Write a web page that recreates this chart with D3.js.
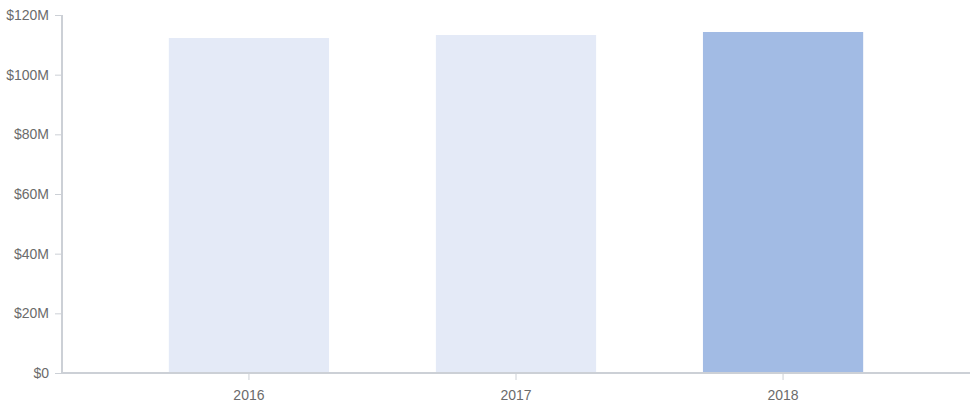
<meta charset="UTF-8">
<head>
  <script src="https://d3js.org/d3.v7.min.js"></script>
  <style>
    body { margin: 0; background: #fff; }
    text { font-family: "Liberation Sans", Arial, sans-serif; }
  </style>
</head>
<body>
  <svg id="svg" width="970" height="412"></svg>
  <script>
    const years = ["2016", "2017", "2018"];
    const revenue = [112.3, 113.3, 114.3]; // $M
    const yTicks = [0, 20, 40, 60, 80, 100, 120];
    const barColors = ["#e4eaf7", "#e4eaf7", "#a2bbe4"];

    const svg = d3.select("#svg");
    const m = { left: 62, right: 970, top: 15, bottom: 373 };

    const x = d3.scaleBand().domain(years).range([m.left, m.right])
      .paddingInner(0.4).paddingOuter(0.4);
    const y = d3.scaleLinear().domain([0, 120]).range([m.bottom, m.top]);

    // bars
    svg.selectAll("rect.bar").data(years).enter()
      .append("rect")
      .attr("class", "bar")
      .attr("x", d => x(d))
      .attr("width", x.bandwidth())
      .attr("y", (d, i) => y(revenue[i]))
      .attr("height", (d, i) => y(0) - y(revenue[i]))
      .attr("fill", (d, i) => barColors[i]);

    const yAxis = svg.append("g")
      .attr("transform", `translate(${m.left},0)`)
      .call(d3.axisLeft(y).tickValues(yTicks).tickSize(7).tickPadding(6)
        .tickFormat(d => "$" + d + (d === 0 ? "" : "M")));

    const xAxis = svg.append("g")
      .attr("transform", `translate(0,${m.bottom})`)
      .call(d3.axisBottom(x).tickSize(7).tickPadding(10).tickSizeOuter(0));

    [yAxis, xAxis].forEach(g => {
      g.select(".domain").attr("stroke", "#ccd0d6").attr("stroke-width", 2);
      g.selectAll(".tick line").attr("stroke", "#ccd0d6");
      g.selectAll(".tick text").attr("fill", "#6b6b6b").attr("font-size", 14);
    });
    yAxis.select(".domain").attr("d", `M0,${m.top}V${m.bottom + 1}`);
    xAxis.select(".domain").attr("d", `M${m.left - 1},0H${m.right}`);
  </script>
</body>
